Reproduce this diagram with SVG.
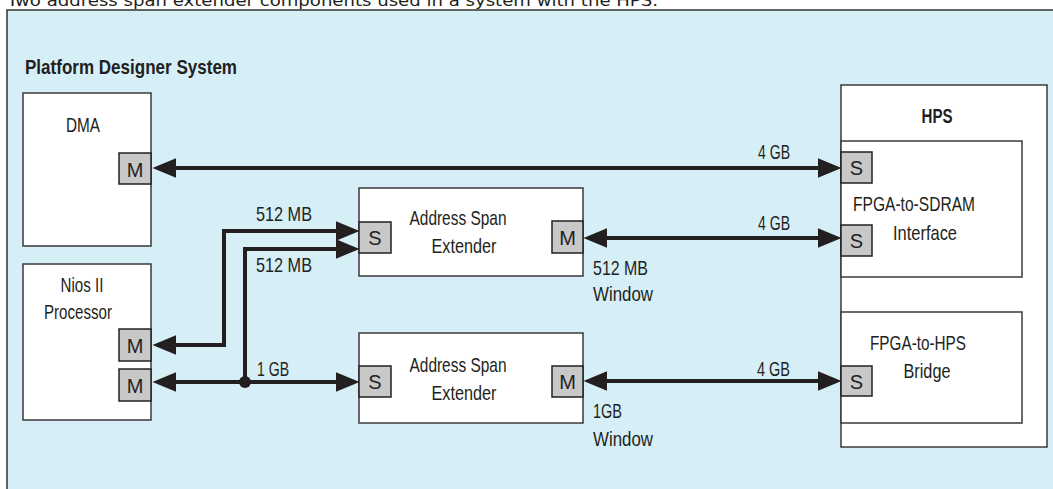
<svg xmlns="http://www.w3.org/2000/svg" width="1053" height="489" viewBox="0 0 1053 489">
<style>
.t{font-family:"Liberation Sans Narrow","Liberation Sans",Arial,sans-serif;font-size:21px;fill:#231f20}
.b{font-weight:bold}
.box{fill:#ffffff;stroke:#3a3a3a;stroke-width:1.5}
.port{fill:#c8c8c8;stroke:#231f20;stroke-width:1.5}
.pt{font-family:"Liberation Sans Narrow","Liberation Sans",Arial,sans-serif;font-size:20px;fill:#231f20;text-anchor:middle}
.c{text-anchor:middle}
.wire{fill:none;stroke:#231f20;stroke-width:4}
.arr{marker-end:url(#ah)}
.arr2{marker-start:url(#ah);marker-end:url(#ah)}
</style>
<defs>
<marker id="ah" markerUnits="userSpaceOnUse" markerWidth="24" markerHeight="20" viewBox="0 0 22 18" refX="16" refY="9" orient="auto-start-reverse">
<path d="M0,0 L22,9 L0,18 Z" fill="#231f20"/>
</marker>
</defs>
<rect x="7" y="10" width="1060" height="490" fill="#d6eef6" stroke="#333333" stroke-width="1.5"/>
<text x="7" y="6" font-family="DejaVu Sans,Verdana,sans-serif" font-size="16" fill="#231f20" textLength="651" lengthAdjust="spacingAndGlyphs">Two address span extender components used in a system with the HPS.</text>
<text class="t b" x="25" y="74" font-size="24" textLength="212" lengthAdjust="spacingAndGlyphs">Platform Designer System</text>

<g id="dma">
<rect class="box" x="23" y="93" width="128" height="153"/>
<text class="t c" x="83" y="132" textLength="34" lengthAdjust="spacingAndGlyphs">DMA</text>
<rect class="port" x="119" y="153" width="32" height="31"/>
<text class="pt" x="135" y="177">M</text>
</g>

<g id="nios">
<rect class="box" x="23" y="264" width="128" height="156"/>
<text class="t c" x="82" y="292" textLength="43" lengthAdjust="spacingAndGlyphs">Nios II</text>
<text class="t c" x="78" y="319" textLength="68" lengthAdjust="spacingAndGlyphs">Processor</text>
<rect class="port" x="119" y="329" width="32" height="32"/>
<text class="pt" x="135" y="353">M</text>
<rect class="port" x="119" y="369" width="32" height="32"/>
<text class="pt" x="135" y="393">M</text>
</g>

<g id="ase1">
<rect class="box" x="359" y="188" width="224" height="88"/>
<text class="t c" x="458" y="225" textLength="97" lengthAdjust="spacingAndGlyphs">Address Span</text>
<text class="t c" x="464" y="253" textLength="65" lengthAdjust="spacingAndGlyphs">Extender</text>
<rect class="port" x="359" y="222" width="32" height="31"/>
<text class="pt" x="375" y="245">S</text>
<rect class="port" x="552" y="221" width="31" height="32"/>
<text class="pt" x="567.5" y="245">M</text>
</g>

<g id="ase2">
<rect class="box" x="359" y="333" width="224" height="90"/>
<text class="t c" x="458" y="372" textLength="97" lengthAdjust="spacingAndGlyphs">Address Span</text>
<text class="t c" x="464" y="400" textLength="65" lengthAdjust="spacingAndGlyphs">Extender</text>
<rect class="port" x="359" y="366" width="32" height="31"/>
<text class="pt" x="375" y="389">S</text>
<rect class="port" x="552" y="366" width="31" height="31"/>
<text class="pt" x="567.5" y="389">M</text>
</g>

<g id="hps">
<rect class="box" x="841" y="85" width="206" height="362"/>
<text class="t b c" x="937" y="123" textLength="31" lengthAdjust="spacingAndGlyphs">HPS</text>
</g>

<g id="sdram">
<rect class="box" x="841" y="141" width="181" height="136"/>
<text class="t c" x="914" y="211" textLength="122" lengthAdjust="spacingAndGlyphs">FPGA-to-SDRAM</text>
<text class="t c" x="925" y="240" textLength="64" lengthAdjust="spacingAndGlyphs">Interface</text>
<rect class="port" x="841" y="152" width="31" height="31"/>
<text class="pt" x="856.5" y="175">S</text>
<rect class="port" x="841" y="225" width="31" height="31"/>
<text class="pt" x="856.5" y="248">S</text>
</g>

<g id="bridge">
<rect class="box" x="841" y="312" width="181" height="111"/>
<text class="t c" x="918" y="350" textLength="96" lengthAdjust="spacingAndGlyphs">FPGA-to-HPS</text>
<text class="t c" x="927" y="378" textLength="47" lengthAdjust="spacingAndGlyphs">Bridge</text>
<rect class="port" x="841" y="366" width="31" height="30"/>
<text class="pt" x="856.5" y="389">S</text>
</g>

<g id="connectors">
<path class="wire arr2" d="M159,168 H835"/>
<path class="wire arr2" d="M159,345 H224 V231 H353"/>
<path class="wire arr2" d="M159,382 H353"/>
<path class="wire arr" d="M245,382 V249 H353"/>
<circle cx="245" cy="382" r="6" fill="#231f20"/>
<path class="wire arr2" d="M590,238 H835"/>
<path class="wire arr2" d="M590,381 H835"/>
</g>

<g id="labels">
<text class="t" x="256" y="221" textLength="56" lengthAdjust="spacingAndGlyphs">512 MB</text>
<text class="t" x="256" y="272" textLength="56" lengthAdjust="spacingAndGlyphs">512 MB</text>
<text class="t" x="257" y="376" textLength="32" lengthAdjust="spacingAndGlyphs">1 GB</text>
<text class="t" x="758" y="159" textLength="32" lengthAdjust="spacingAndGlyphs">4 GB</text>
<text class="t" x="758" y="230" textLength="32" lengthAdjust="spacingAndGlyphs">4 GB</text>
<text class="t" x="757" y="376" textLength="33" lengthAdjust="spacingAndGlyphs">4 GB</text>
<text class="t" x="593" y="275" textLength="55" lengthAdjust="spacingAndGlyphs">512 MB</text>
<text class="t" x="593" y="301" textLength="60" lengthAdjust="spacingAndGlyphs">Window</text>
<text class="t" x="593" y="418" textLength="29" lengthAdjust="spacingAndGlyphs">1GB</text>
<text class="t" x="593" y="446" textLength="60" lengthAdjust="spacingAndGlyphs">Window</text>
</g>
</svg>
